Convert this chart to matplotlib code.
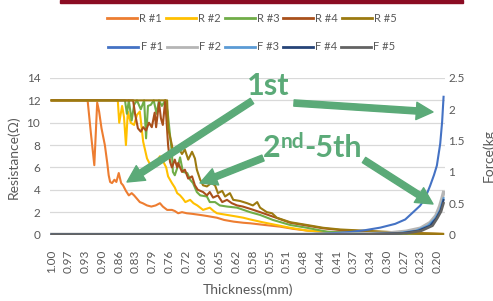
import matplotlib
matplotlib.use("Agg")
import matplotlib.pyplot as plt
from matplotlib.patches import Rectangle
from matplotlib.lines import Line2D

plt.rcParams["font.family"] = ["Lato", "DejaVu Sans"]

TXT = "#595959"
GRID = "#D9D9D9"
ANNO = "#5BAA78"

# resistance curves (thickness mm, ohm)
R1_T = [1.000, 0.925, 0.918, 0.911, 0.905, 0.901, 0.896, 0.889, 0.884, 0.881, 0.878, 0.874, 0.869, 0.865,
        0.860, 0.855, 0.851, 0.845, 0.839, 0.833, 0.828, 0.822, 0.816, 0.810, 0.801, 0.792, 0.783, 0.774,
        0.768, 0.759, 0.749, 0.743, 0.736, 0.728, 0.718, 0.707, 0.690, 0.675, 0.655, 0.640, 0.620, 0.600,
        0.585, 0.555, 0.523, 0.495, 0.467, 0.430, 0.400, 0.370, 0.330, 0.290, 0.240, 0.185]
R1_V = [12.0, 12.0, 9.0, 6.2, 11.8, 11.0, 9.5, 8.0, 6.4, 5.3, 4.7, 4.6, 4.9, 4.7,
        5.5, 4.6, 4.4, 3.9, 3.5, 3.7, 3.5, 3.2, 2.9, 2.8, 2.6, 2.5, 2.6, 2.8,
        2.5, 2.2, 2.2, 2.1, 1.9, 2.0, 1.9, 1.85, 1.75, 1.65, 1.5, 1.3, 1.15, 1.05,
        1.0, 0.85, 0.7, 0.5, 0.35, 0.25, 0.18, 0.13, 0.10, 0.08, 0.05, 0.03]

R2_T = [1.000, 0.862, 0.859, 0.853, 0.849, 0.845, 0.841, 0.835, 0.828, 0.822, 0.816, 0.809, 0.801, 0.795,
        0.786, 0.780, 0.774, 0.768, 0.761, 0.757, 0.749, 0.743, 0.738, 0.732, 0.726, 0.721, 0.711, 0.704,
        0.696, 0.684, 0.670, 0.662, 0.655, 0.634, 0.613, 0.600, 0.586, 0.560, 0.537, 0.502, 0.467, 0.420,
        0.357, 0.273, 0.185]
R2_V = [12.0, 12.0, 10.0, 11.5, 10.5, 8.0, 11.0, 10.0, 9.8, 10.7, 11.0, 8.3, 6.8, 6.3,
        6.4, 6.6, 7.0, 6.6, 6.0, 5.2, 4.6, 4.2, 3.7, 3.5, 3.2, 2.9, 3.1, 2.8,
        2.6, 2.2, 2.4, 2.1, 1.9, 1.75, 1.6, 1.5, 1.35, 1.1, 0.9, 0.6, 0.35, 0.2,
        0.12, 0.08, 0.05]

R3_T = [1.000, 0.847, 0.843, 0.839, 0.833, 0.828, 0.822, 0.814, 0.807, 0.803, 0.799, 0.793, 0.787, 0.781,
        0.776, 0.770, 0.763, 0.758, 0.753, 0.749, 0.747, 0.743, 0.736, 0.732, 0.726, 0.717, 0.711, 0.705,
        0.697, 0.690, 0.676, 0.670, 0.659, 0.649, 0.634, 0.613, 0.586, 0.565, 0.538, 0.502, 0.467, 0.425,
        0.377, 0.300, 0.185]
R3_V = [12.0, 12.0, 10.8, 12.0, 10.2, 11.6, 12.0, 11.2, 12.0, 8.6, 11.5, 11.6, 12.0, 10.8,
        12.0, 11.5, 12.0, 11.0, 8.9, 7.3, 5.6, 5.3, 6.2, 6.9, 5.6, 5.5, 4.9, 4.6,
        3.8, 3.5, 3.4, 2.9, 2.9, 2.6, 2.5, 2.4, 2.0, 1.75, 1.3, 0.85, 0.6, 0.25,
        0.15, 0.08, 0.04]

R4_T = [1.000, 0.830, 0.826, 0.820, 0.814, 0.809, 0.803, 0.797, 0.791, 0.785, 0.782, 0.776, 0.772, 0.768,
        0.763, 0.757, 0.753, 0.749, 0.743, 0.738, 0.736, 0.728, 0.722, 0.715, 0.707, 0.701, 0.695, 0.684,
        0.676, 0.670, 0.663, 0.653, 0.644, 0.634, 0.624, 0.613, 0.601, 0.586, 0.565, 0.538, 0.502, 0.467,
        0.433, 0.398, 0.329, 0.259, 0.183]
R4_V = [12.0, 12.0, 10.8, 9.5, 9.2, 9.6, 9.3, 10.0, 9.6, 10.9, 9.6, 11.8, 10.4, 9.8,
        12.0, 8.0, 6.5, 6.0, 6.7, 6.0, 6.4, 5.6, 5.8, 5.0, 5.2, 4.4, 4.0, 3.8,
        3.5, 3.8, 3.3, 3.5, 2.9, 3.1, 2.8, 2.6, 2.5, 2.3, 2.0, 1.6, 1.05, 0.8,
        0.55, 0.4, 0.25, 0.12, 0.05]

R5_T = [1.000, 0.759, 0.757, 0.749, 0.747, 0.743, 0.736, 0.728, 0.722, 0.715, 0.707, 0.701, 0.697, 0.690,
        0.684, 0.676, 0.667, 0.659, 0.653, 0.644, 0.638, 0.628, 0.621, 0.607, 0.592, 0.580, 0.571, 0.565,
        0.551, 0.540, 0.530, 0.502, 0.467, 0.433, 0.398, 0.329, 0.259, 0.183]
R5_V = [12.0, 12.0, 9.5, 8.0, 7.5, 7.5, 7.8, 7.2, 7.6, 6.7, 7.4, 6.8, 5.8, 4.9,
        4.4, 4.3, 4.6, 4.4, 3.7, 3.9, 3.4, 3.7, 3.1, 3.0, 2.8, 2.6, 2.9, 2.4,
        2.0, 1.9, 1.5, 1.1, 0.85, 0.6, 0.45, 0.3, 0.15, 0.05]

# force curves (thickness mm, kg)
F1_T = [1.000, 0.481, 0.417, 0.377, 0.345, 0.314, 0.283, 0.262, 0.245, 0.231, 0.221, 0.210, 0.202,
        0.196, 0.189, 0.185, 0.182]
F1_V = [0.0, 0.005, 0.02, 0.04, 0.07, 0.11, 0.17, 0.24, 0.36, 0.46, 0.57, 0.78, 0.95,
        1.1, 1.45, 1.8, 2.2]
F2_T = [1.000, 0.400, 0.300, 0.260, 0.230, 0.210, 0.198, 0.190, 0.185, 0.182]
F2_V = [0.0, 0.0, 0.02, 0.05, 0.10, 0.19, 0.30, 0.45, 0.58, 0.67]
F3_T = [1.000, 0.380, 0.280, 0.240, 0.215, 0.200, 0.190, 0.182]
F3_V = [0.0, 0.0, 0.02, 0.06, 0.14, 0.25, 0.38, 0.58]
F4_T = [1.000, 0.370, 0.270, 0.235, 0.210, 0.197, 0.188, 0.182]
F4_V = [0.0, 0.0, 0.02, 0.06, 0.14, 0.26, 0.39, 0.55]
F5_T = [1.000, 0.360, 0.260, 0.228, 0.205, 0.195, 0.187, 0.182]
F5_V = [0.0, 0.0, 0.02, 0.06, 0.14, 0.26, 0.37, 0.50]

TICK_LABELS = ["1.00", "0.97", "0.93", "0.90", "0.86", "0.83", "0.79", "0.76", "0.72", "0.69",
               "0.65", "0.62", "0.58", "0.55", "0.51", "0.48", "0.44", "0.41", "0.37", "0.34",
               "0.30", "0.27", "0.23", "0.20"]

R_SERIES = [("R #1", R1_T, R1_V, "#ED7D31"),
            ("R #2", R2_T, R2_V, "#FFC000"),
            ("R #3", R3_T, R3_V, "#70AD47"),
            ("R #4", R4_T, R4_V, "#A9501B"),
            ("R #5", R5_T, R5_V, "#9C7A10")]
F_SERIES = [("F #1", F1_T, F1_V, "#4472C4", 1.5),
            ("F #2", F2_T, F2_V, "#B5B5B5", 2.6),
            ("F #3", F3_T, F3_V, "#5B9BD5", 1.5),
            ("F #4", F4_T, F4_V, "#264478", 1.5),
            ("F #5", F5_T, F5_V, "#636363", 1.8)]

W, H = 493, 301
fig = plt.figure(figsize=(W / 100, H / 100), dpi=100)
fig.patch.set_facecolor("white")
ax = fig.add_axes([50 / W, 1 - 234.5 / H, 395 / W, 156.5 / H])
ax2 = ax.twinx()

for name, t, v, c in R_SERIES:
    ax.plot(t, v, color=c, lw=1.5, solid_joinstyle="round")
for name, t, v, c, lw in F_SERIES:
    ax2.plot(t, v, color=c, lw=lw, solid_joinstyle="round")

ax.set_xlim(1.0035, 0.179)
ax.set_ylim(0, 14)
ax2.set_ylim(0, 2.5)
ax.set_yticks(range(0, 15, 2))
ax2.set_yticks([0, 0.5, 1, 1.5, 2, 2.5])
ax2.set_yticklabels(["0", "0.5", "1", "1.5", "2", "2.5"])
ax.set_xticks([1.0 - 0.035 * i for i in range(len(TICK_LABELS))])
ax.set_xticklabels(TICK_LABELS, rotation=90)

ax.yaxis.grid(True, color=GRID, lw=0.9)
ax.set_axisbelow(True)
for a in (ax, ax2):
    for s in a.spines.values():
        s.set_visible(False)
ax.tick_params(axis="x", length=0, pad=11, labelsize=8.5, colors=TXT)
ax.tick_params(axis="y", length=0, pad=7, labelsize=8.5, colors=TXT)
ax2.tick_params(axis="y", length=0, pad=2.5, labelsize=8.5, colors=TXT)

fig.text(13.5 / W, 1 - 157 / H, "Resistance(Ω)", rotation=90, ha="center", va="center",
         fontsize=10, color=TXT)
fig.text(488 / W, 1 - 156 / H, "Force(kg", rotation=90, ha="center", va="center",
         fontsize=10, color=TXT)
fig.text(248 / W, 1 - 290 / H, "Thickness(mm)", ha="center", va="center", fontsize=10, color=TXT)

# legends
r_handles = [Line2D([], [], color=c, lw=2) for _, _, _, c in R_SERIES]
f_handles = [Line2D([], [], color=c, lw=2) for _, _, _, c, _ in F_SERIES]
for handles, labels, y in ((r_handles, [s[0] for s in R_SERIES], 18.7),
                           (f_handles, [s[0] for s in F_SERIES], 47)):
    leg = fig.legend(handles, labels, ncol=5, loc="center", bbox_to_anchor=(252 / W, 1 - y / H),
                     frameon=False, fontsize=8, handlelength=2.7, handletextpad=0.2,
                     columnspacing=0.35, borderpad=0)
    for t in leg.get_texts():
        t.set_color(TXT)

# top banner strip
fig.patches.append(Rectangle((60 / W, 1 - 3 / H), 403 / W, 3 / H, transform=fig.transFigure,
                             color="#8B0C23", zorder=5))

# annotation arrows
arrow = dict(arrowstyle="simple,tail_width=0.45,head_width=1.25,head_length=1.2",
             color=ANNO, shrinkA=0, shrinkB=0, mutation_scale=10)
for tail, tip in (((252, 101), (127, 182)), ((294, 103), (433, 112)),
                  ((263, 158), (200, 183)), ((364, 160), (433, 204))):
    ax2.annotate("", xy=(tip[0], H - tip[1]), xytext=(tail[0], H - tail[1]),
                 xycoords="figure pixels", textcoords="figure pixels",
                 arrowprops=arrow, annotation_clip=False, zorder=10)

ax2.text(247 / W, 1 - 95 / H, "1st", transform=fig.transFigure, fontsize=22,
         fontweight="bold", color=ANNO, va="baseline", ha="left", zorder=11)
t2 = ax2.text(263 / W, 1 - 157 / H, "2", transform=fig.transFigure, fontsize=22,
              fontweight="bold", color=ANNO, va="baseline", ha="left", zorder=11)
tnd = ax2.annotate("nd", xy=(1, H - 148), xycoords=(t2, "figure pixels"), fontsize=15,
                   fontweight="bold", color=ANNO, va="baseline", ha="left",
                   annotation_clip=False, zorder=11)
ax2.annotate("-5th", xy=(1, H - 157), xycoords=(tnd, "figure pixels"), fontsize=22,
             fontweight="bold", color=ANNO, va="baseline", ha="left",
             annotation_clip=False, zorder=11)

fig.savefig("out.png", dpi=100, facecolor="white")
